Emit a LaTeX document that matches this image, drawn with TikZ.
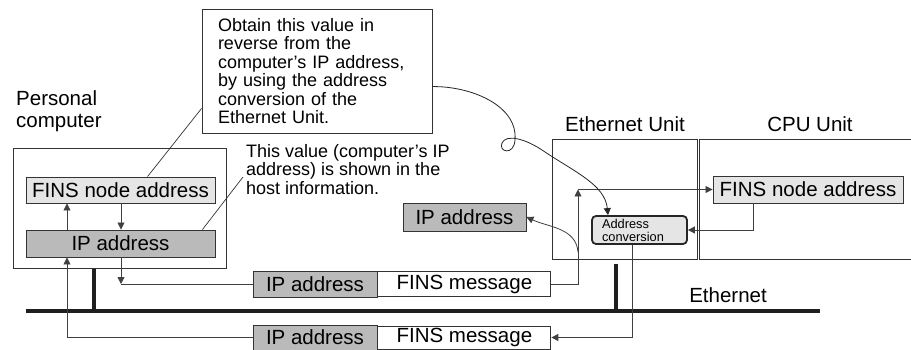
\documentclass[tikz,border=0pt]{standalone}
\usepackage{fontspec}
\setmainfont{Liberation Sans}
\usetikzlibrary{arrows.meta,calc,shadows}
\newcommand{\labfont}{\fontsize{20.5}{22}\selectfont}
\newcommand{\notefont}{\fontsize{18}{18.4}\selectfont}
\newcommand{\tinyfont}{\fontsize{12.8}{13}\selectfont}

\begin{document}
\begin{tikzpicture}[x=1pt,y=-1pt,
	wire/.style={draw=black!75, line width=0.8pt},
	arr/.style={wire, -{Triangle[length=7pt,width=7pt]}},
	unitbox/.style={draw=black!80, line width=1pt, minimum height=119pt, inner sep=0pt},
	field/.style={draw=black!80, line width=0.9pt, inner sep=0pt, font=\labfont},
	shade/.style={drop shadow={shadow xshift=0.8pt, shadow yshift=-1.4pt, fill=black!75, opacity=1}},
	busline/.style={draw=black!88, line width=3.6pt}]
		\useasboundingbox (0,0) rectangle (911,350);
		% personal computer
		\node[unitbox, minimum width=213pt] (pc) at (119.5,208.5) {};
		\node[anchor=west, align=left, font=\labfont, inner sep=0pt] (pclabel) at (16,111) {Personal\\computer};
		\node[field, shade, fill=black!10, minimum width=189pt, minimum height=26pt] (pcfins) at (120.5,190) {FINS node address};
		\node[field, shade, fill=black!27, minimum width=189pt, minimum height=27pt] (pcip) at (120.5,243.5) {IP address};
		\coordinate (upx) at (67,0);
		\coordinate (dnx) at (121,0);
		\draw[arr] (pcip.north -| upx) -- (pcfins.south -| upx);
		\draw[arr] (pcfins.south -| dnx) -- (pcip.north -| dnx);

		% notes
		\node[draw=black!80, line width=0.8pt, minimum width=230pt, minimum height=124pt, text width=198pt, inner xsep=16pt, inner ysep=0pt, align=left, font=\notefont] (annot) at (317,71)
			{Obtain this value in\\reverse from the\\computer's IP address,\\by using the address\\conversion of the\\Ethernet Unit.};
		\node[anchor=west, align=left, font=\notefont, inner sep=0pt] (hostnote) at (246,169.5)
			{This value (computer's IP\\address) is shown in the\\host information.};
		\draw[draw=black!80, line width=0.7pt] ($(annot.south west)+(0,-25)$) -- ($(pcfins.north west)+(122,0)$);
		\draw[draw=black!80, line width=0.7pt] ($(pcip.north east)+(-13,0)$) -- (243,177);

		% ethernet and cpu unit
		\node[unitbox, minimum width=145pt] (eu) at (624.5,199.5) {};
		\node[unitbox, minimum width=220pt] (cpu) at (809,199.5) {};
		\node[font=\labfont] (eulabel) at (625,124) {Ethernet Unit};
		\node[font=\labfont] (cpulabel) at (810,124) {CPU Unit};
		\node[draw=black!85, line width=1.8pt, rounded corners=4pt, fill=black!10, minimum height=28pt, text width=75pt, inner xsep=10pt, inner ysep=0pt, align=left, font=\tinyfont] (addr) at (639.5,230) {Address\\conversion};
		\node[field, shade, fill=black!10, minimum width=190pt, minimum height=27pt] (cpufins) at (808,189.5) {FINS node address};
		\node[field, shade, fill=black!27, minimum width=123pt, minimum height=28pt] (ipfloat) at (464.5,217) {IP address};

		% packets
		\node[field, shade, fill=black!27, minimum width=124pt, minimum height=26pt] (pkaip) at (315,284) {IP address};
		\node[field, fill=white, minimum width=173pt, minimum height=25pt, anchor=west] (pkafins) at (pkaip.east) {FINS message};
		\node[field, shade, fill=black!27, minimum width=124pt, minimum height=25pt] (pkbip) at (315,337.5) {IP address};
		\node[field, fill=white, minimum width=173pt, minimum height=23pt, anchor=west] (pkbfins) at (pkbip.east) {FINS message};

		% ethernet line
		\coordinate (busL) at (26,311);
		\coordinate (busR) at (820,311);
		\draw[busline] (busL) -- (busR);
		\draw[busline] (pc.south -| 94,0) -- (busL -| 94,0);
		\draw[busline] (616,264) -- (busL -| 616,0);
		\node[font=\labfont] (ethlabel) at (728,295) {Ethernet};

		% data flow
		\coordinate (riser) at (578,0);
		\coordinate (drop) at (632,0);
		\coordinate (fb) at (753,0);
		\draw[arr] (pcip.south -| dnx) -- (pkaip.west -| dnx);
		\draw[wire] (pkaip.west -| dnx) -- (pkaip.west);
		\draw[arr] (pkbip.west) -| (pcip.south -| upx);
		\draw[arr] (pkafins.east) -| (cpufins.west -| riser);
		\draw[arr] (cpufins.west -| riser) -- (cpufins.west);
		\draw[arr] (riser |- 0,252) to[out=95,in=-25] (ipfloat.east);
		\draw[arr] (cpufins.south -| fb) |- (addr.east);
		\draw[arr] (addr.south -| drop) |- (pkbfins.east);
		\draw[black!85, line width=0.8pt, -{Triangle[length=7pt,width=7pt]}] ($(annot.north east)+(0,78)$) .. controls (470,86) and (518,105) .. (515,140)
			.. controls (514,156) and (498,152) .. (502,143) .. controls (506,134) and (525,138) .. (545,152)
			.. controls (575,172) and (605,185) .. (addr.north -| 608,0);
	\end{tikzpicture}
\end{document}
